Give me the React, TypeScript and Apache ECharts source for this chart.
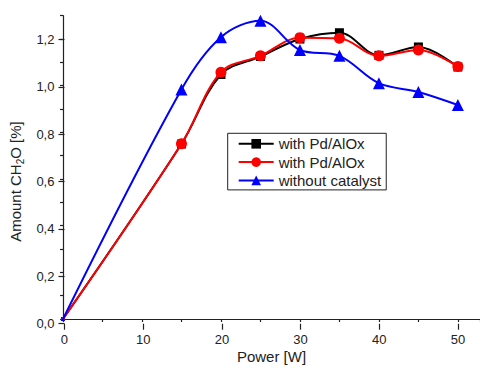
import React, { useEffect, useRef } from "react";
import * as echarts from "echarts";

const powers = [0, 15, 20, 25, 30, 35, 40, 45, 50];
const pdA = [0, 0.75, 1.048, 1.125, 1.2, 1.227, 1.13, 1.166, 1.08];
const pdB = [0, 0.751, 1.058, 1.128, 1.206, 1.203, 1.128, 1.153, 1.082];
const noCat = [0, 0.984, 1.208, 1.278, 1.153, 1.128, 1.011, 0.973, 0.917];
const seriesNames = ["with Pd/AlOx", "with Pd/AlOx ", "without catalyst"];
const legendLabels = ["with Pd/AlOx", "with Pd/AlOx", "without catalyst"];

const AX = "#222";
const FONT = "Liberation Sans, Arial, sans-serif";

function toData(vals: number[]) {
  return powers.map((p, i) =>
    p === 0 ? { value: [p, vals[i]], symbolSize: 4 } : { value: [p, vals[i]] }
  );
}

export default function App() {
  const ref = useRef<HTMLDivElement>(null);
  useEffect(() => {
    if (!ref.current) return;
    const chart = echarts.init(ref.current, undefined, { renderer: "svg" });
    const gTop = 15.7;
    const gH = 308;
    const g2Top = gTop + gH * (0.1 / 1.3);
    const g2H = gH * (1.2 / 1.3);
    const pxPerW = 7.9;
    chart.setOption({
      animation: false,
      backgroundColor: "#fff",
      textStyle: { fontFamily: FONT },
      grid: [
        { left: 63, top: gTop, width: 417, height: gH },
        { left: 63, top: g2Top, width: pxPerW * 50, height: g2H },
      ],
      xAxis: [
        {
          type: "value",
          gridIndex: 0,
          min: 0,
          max: 52.8,
          interval: 5,
          axisLine: { show: true, lineStyle: { color: AX, width: 1.2 } },
          axisTick: { show: true, length: 3, lineStyle: { color: AX, width: 1.2 } },
          axisLabel: { show: false },
          splitLine: { show: false },
          name: "Power [W]",
          nameLocation: "middle",
          nameGap: 30,
          nameTextStyle: { fontSize: 15, color: AX, fontFamily: FONT },
        },
        {
          type: "value",
          gridIndex: 1,
          min: 0,
          max: 50,
          interval: 10,
          axisLine: { show: false },
          axisTick: { show: true, length: 6, lineStyle: { color: AX, width: 1.2 } },
          axisLabel: { show: true, margin: 9, fontSize: 13, color: AX, fontFamily: FONT },
          splitLine: { show: false },
        },
      ],
      yAxis: [
        {
          type: "value",
          gridIndex: 0,
          min: 0,
          max: 1.3,
          interval: 0.1,
          axisLine: { show: true, lineStyle: { color: AX, width: 1.2 } },
          axisTick: { show: true, length: 3, lineStyle: { color: AX, width: 1.2 } },
          axisLabel: { show: false },
          splitLine: { show: false },
        },
        {
          type: "value",
          gridIndex: 1,
          min: 0,
          max: 1.2,
          interval: 0.2,
          axisLine: { show: false },
          axisTick: { show: true, length: 6, lineStyle: { color: AX, width: 1.2 } },
          axisLabel: {
            show: true,
            margin: 10,
            fontSize: 13,
            color: AX,
            fontFamily: FONT,
            formatter: (v: number) => v.toFixed(1).replace(".", ","),
          },
          splitLine: { show: false },
          name: "{a|Amount CH}{sub|2}{a|O [%]}",
          nameLocation: "middle",
          nameGap: 35,
          nameTextStyle: {
            color: AX,
            fontFamily: FONT,
            rich: {
              a: { fontSize: 15, color: AX, fontFamily: FONT, lineHeight: 20, verticalAlign: "middle" },
              sub: { fontSize: 10, color: AX, fontFamily: FONT, lineHeight: 20, verticalAlign: "bottom", padding: [0, 0, 0, 0] },
            },
          },
        },
      ],
      legend: {
        orient: "vertical",
        left: 227.7,
        top: 133.3,
        width: 157,
        padding: [3, 5, 2, 10],
        itemGap: 3.3,
        itemWidth: 35,
        itemHeight: 12,
        borderColor: "#222",
        borderWidth: 1,
        borderRadius: 0,
        backgroundColor: "#fff",
        formatter: (n: string) => legendLabels[seriesNames.indexOf(n)],
        textStyle: { fontSize: 15, color: AX, fontFamily: FONT, lineHeight: 15 },
        data: seriesNames,
      },
      series: [
        {
          name: seriesNames[0],
          type: "line",
          xAxisIndex: 0,
          yAxisIndex: 0,
          data: toData(pdA),
          smooth: 0.35,
          symbol: "rect",
          symbolSize: 9,
          itemStyle: { color: "#000" },
          lineStyle: { color: "#000", width: 2 },
          z: 2,
        },
        {
          name: seriesNames[1],
          type: "line",
          xAxisIndex: 0,
          yAxisIndex: 0,
          data: toData(pdB),
          smooth: 0.35,
          symbol: "circle",
          symbolSize: 11,
          itemStyle: { color: "#ff0000" },
          lineStyle: { color: "#ff0000", width: 2 },
          z: 3,
        },
        {
          name: seriesNames[2],
          type: "line",
          xAxisIndex: 0,
          yAxisIndex: 0,
          data: toData(noCat),
          smooth: 0.35,
          symbol: "triangle",
          symbolSize: 12,
          itemStyle: { color: "#0000ff" },
          lineStyle: { color: "#0000ff", width: 2 },
          z: 4,
        },
      ],
    });
    return () => chart.dispose();
  }, []);
  return (
    <div
      ref={ref}
      style={{ position: "absolute", left: 0, top: 0, width: 480, height: 369 }}
    />
  );
}
